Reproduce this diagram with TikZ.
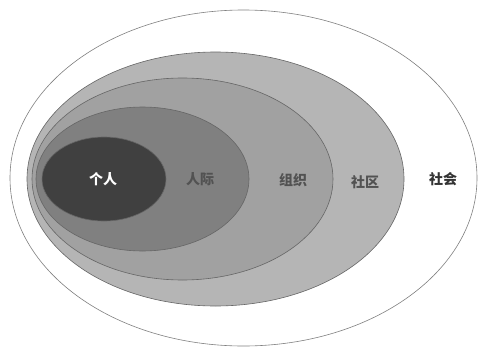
\documentclass[tikz,border=0pt]{standalone}
\usepackage{fontspec}
\newfontfamily\cjk{Noto Sans CJK SC}
\tikzset{
  ring/.style={draw=black!60, line width=0.6pt},
  lab/.style={font=\cjk\bfseries\fontsize{14}{14}\selectfont, inner sep=0pt}
}
\begin{document}
\begin{tikzpicture}[x=1pt,y=-1pt]
\useasboundingbox (0,0) rectangle (479,348);
\fill[white] (0,0) rectangle (479,348);
\draw[ring, fill=white, draw=black!50] (243.5,178) ellipse [x radius=233.5, y radius=168];
\draw[ring, fill=black!29] (215.5,179) ellipse [x radius=188.5, y radius=127];
\draw[ring, fill=black!37] (182.5,179) ellipse [x radius=150.5, y radius=101];
\draw[ring, fill=black!50] (142.5,179) ellipse [x radius=106.5, y radius=72];
\draw[ring, fill=black!75] (104,179) ellipse [x radius=62, y radius=42];
\node[lab, text=white] (geren) at (103,179) {个人};
\node[lab, text=black!68] (renji) at (200,179) {人际};
\node[lab, text=black!68] (zuzhi) at (293,180) {组织};
\node[lab, text=black!68] (shequ) at (365,182) {社区};
\node[lab, text=black!80] (shehui) at (443,179) {社会};
\end{tikzpicture}
\end{document}
